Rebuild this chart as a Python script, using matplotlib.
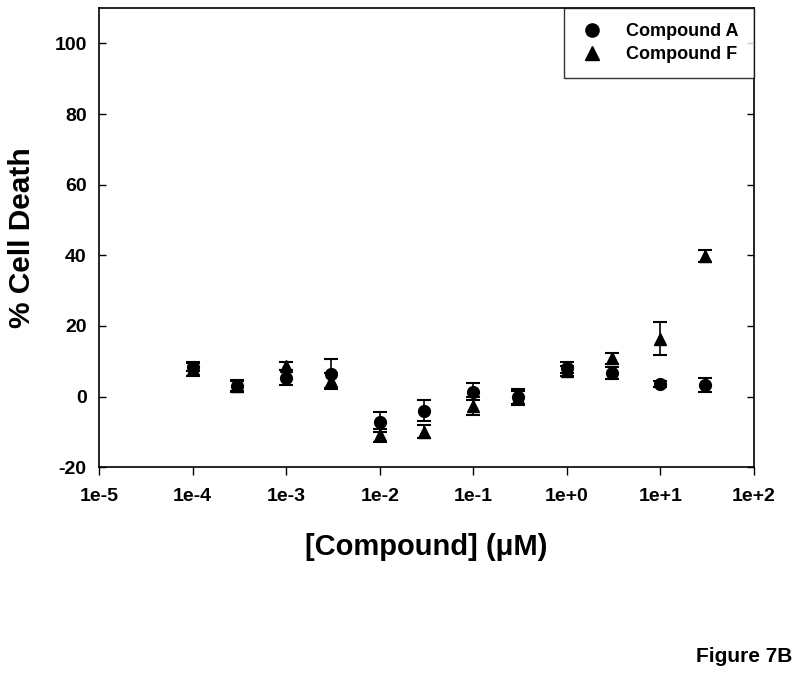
import numpy as np
import matplotlib
matplotlib.use("Agg")
import matplotlib.pyplot as plt
from matplotlib.ticker import FixedLocator, FuncFormatter
from matplotlib.lines import Line2D

plt.rcParams['font.family'] = ['Liberation Sans', 'DejaVu Sans']
plt.rcParams['axes.unicode_minus'] = False

# --- Data ---
conc = [1e-4, 3e-4, 1e-3, 3e-3, 1e-2, 3e-2, 1e-1, 3e-1, 1e0, 3e0, 1e1, 3e1]

cmpd_a = [8.4, 3.0, 5.3, 6.5, -7.2, -4.0, 1.3, 0.0, 8.2, 6.7, 3.6, 3.2]
cmpd_a_err = [1.2, 1.4, 2.1, 4.1, 2.8, 2.9, 2.4, 2.2, 1.5, 1.8, 0.8, 2.0]

cmpd_f = [7.8, 3.0, 8.7, 4.3, -11.0, -10.0, -2.6, -0.5, 7.2, 10.8, 16.4, 39.8]
cmpd_f_err = [1.9, 1.6, 1.1, 2.3, 1.9, 1.8, 2.5, 2.0, 1.5, 1.5, 4.7, 1.7]

xticks = [1e-5, 1e-4, 1e-3, 1e-2, 1e-1, 1e0, 1e1, 1e2]
xtick_labels = ["1e-5", "1e-4", "1e-3", "1e-2", "1e-1", "1e+0", "1e+1", "1e+2"]
yticks = [-20, 0, 20, 40, 60, 80, 100]

# --- Plot ---
fig = plt.figure(figsize=(8, 6.78), dpi=100)
ax = fig.add_axes([0.124, 0.311, 0.8185, 0.677])

ax.errorbar(conc, cmpd_a, yerr=cmpd_a_err, fmt="o", color="black",
            markersize=8.5, capsize=5, elinewidth=1.2, capthick=1.5)
ax.errorbar(conc, cmpd_f, yerr=cmpd_f_err, fmt="^", color="black",
            markersize=8.5, capsize=5, elinewidth=1.2, capthick=1.5)

ax.set_xscale("log")
ax.set_xlim(1e-5, 1e2)
ax.set_ylim(-20, 110)
ax.xaxis.set_major_locator(FixedLocator(xticks))
ax.xaxis.set_major_formatter(FuncFormatter(lambda v, p: xtick_labels[xticks.index(v)] if v in xticks else ""))
ax.xaxis.set_minor_locator(FixedLocator([]))
ax.set_yticks(yticks)

ax.tick_params(axis="x", direction="out", length=6, width=1, labelsize=14, pad=9)
ax.tick_params(axis="y", direction="in", length=5, width=1, labelsize=14, right=True, pad=9)
for lab in ax.get_xticklabels() + ax.get_yticklabels():
    lab.set_fontweight("bold")
for s in ax.spines.values():
    s.set_linewidth(1.2)

ax.set_xlabel("[Compound] (\u03bcM)", fontsize=21, fontweight="bold", labelpad=20)
ax.set_ylabel("% Cell Death", fontsize=21.5, fontweight="bold", labelpad=13)

handles = [Line2D([], [], marker="o", linestyle="none", color="black", markersize=9.5),
           Line2D([], [], marker="^", linestyle="none", color="black", markersize=9.5)]
leg = ax.legend(handles, ["Compound A", "Compound F"], loc="upper right",
                bbox_to_anchor=(1.0, 1.0), frameon=True, fancybox=False,
                edgecolor="black", prop={"weight": "bold", "size": 13},
                handletextpad=1.2, borderpad=0.85, borderaxespad=0,
                labelspacing=0.3, handlelength=1.4)
leg.get_frame().set_linewidth(1.0)

fig.text(0.991, 0.018, "Figure 7B", ha="right", va="bottom", fontsize=15,
         fontweight="bold")

fig.savefig("out.png", dpi=100)
